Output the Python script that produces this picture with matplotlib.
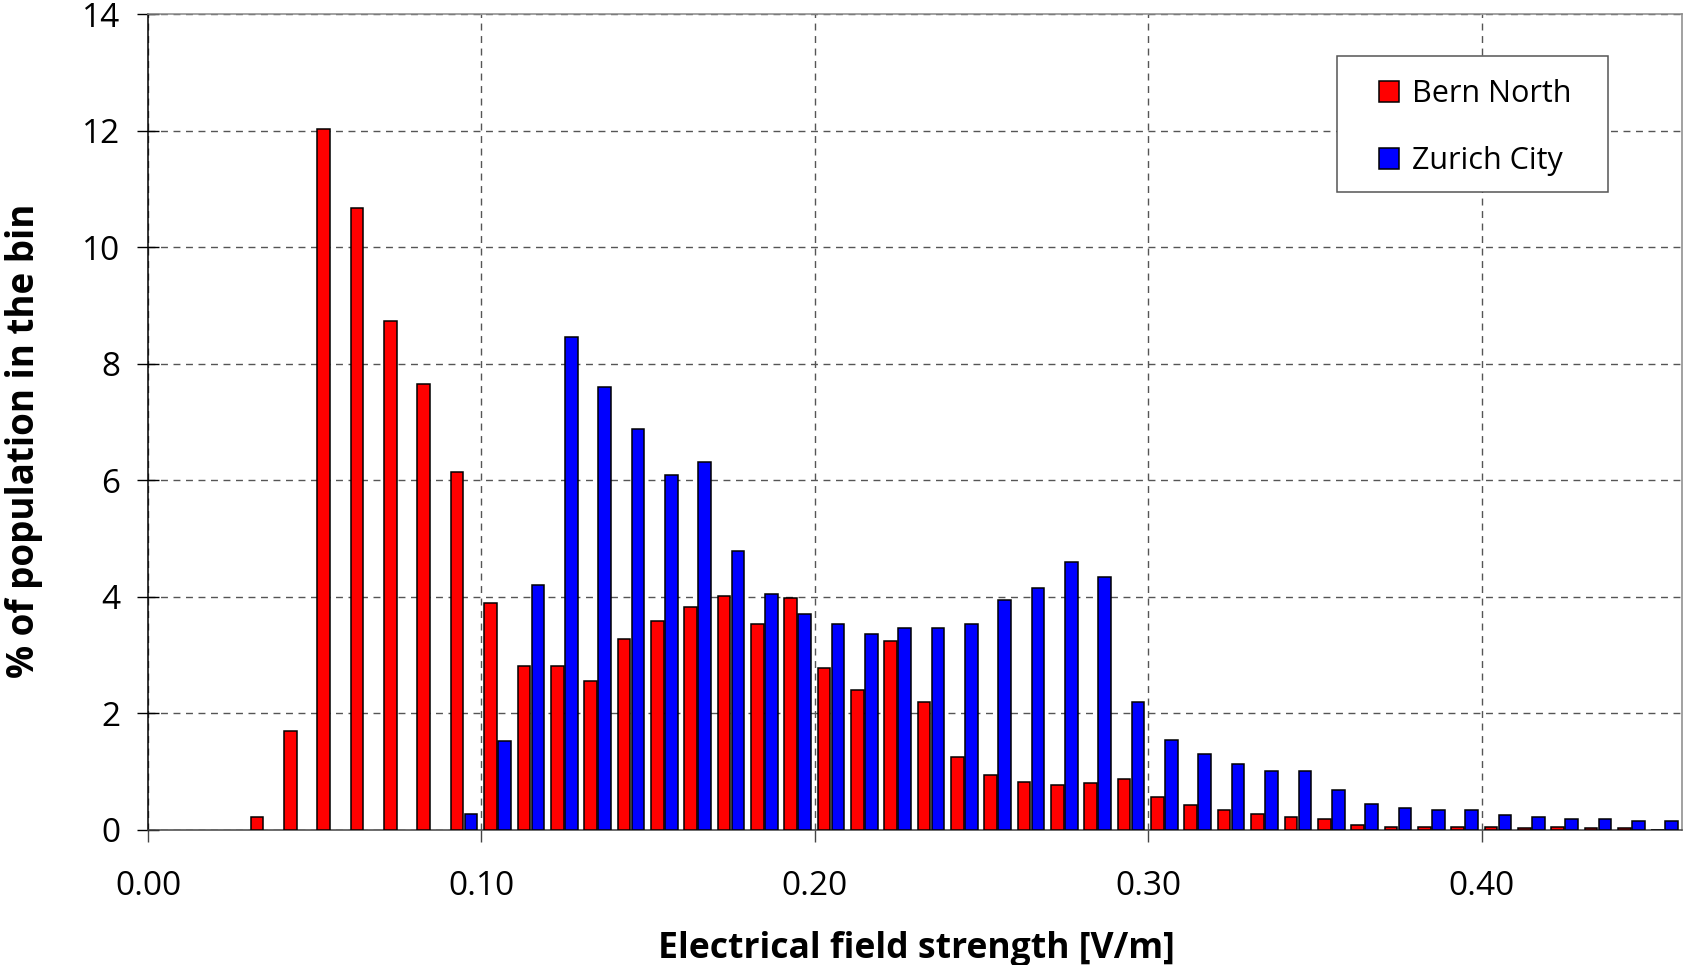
import numpy as np
import matplotlib
matplotlib.use('Agg')
import matplotlib.pyplot as plt
from matplotlib.patches import Rectangle

plt.rcParams['font.family'] = ['Open Sans', 'DejaVu Sans']

# bin start of each 0.01 V/m bin
bern_bins = np.round(np.arange(0.03, 0.455, 0.01), 2)
bern_pct = [0.22, 1.70, 12.03, 10.68, 8.74, 7.65, 6.14, 3.89, 2.81, 2.81,
            2.56, 3.28, 3.58, 3.83, 4.02, 3.53, 3.99, 2.78, 2.41, 3.24,
            2.19, 1.26, 0.95, 0.83, 0.77, 0.80, 0.87, 0.56, 0.43, 0.34,
            0.28, 0.22, 0.19, 0.09, 0.06, 0.06, 0.06, 0.06, 0.03, 0.06,
            0.03, 0.03, 0.0]

zurich_bins = np.round(np.arange(0.09, 0.455, 0.01), 2)
zurich_pct = [0.28, 1.52, 4.20, 8.47, 7.60, 6.89, 6.09, 6.31, 4.79, 4.05,
              3.71, 3.53, 3.37, 3.46, 3.46, 3.54, 3.95, 4.16, 4.60, 4.34,
              2.19, 1.54, 1.30, 1.14, 1.02, 1.02, 0.69, 0.44, 0.37, 0.34,
              0.34, 0.25, 0.22, 0.19, 0.19, 0.15, 0.15]

x_ticks = [0.0, 0.1, 0.2, 0.3, 0.4]
y_ticks = [0, 2, 4, 6, 8, 10, 12, 14]

fig = plt.figure(figsize=(16.84, 9.65), dpi=100)
ax = fig.add_axes([0.08789, 0.13990, 0.91093, 0.84528])

w = 0.0038
ax.bar(bern_bins + 0.0027, bern_pct, width=w, color='#ff0000',
       edgecolor='black', linewidth=1.1, zorder=3, label='Bern North')
ax.bar(zurich_bins + 0.0069, zurich_pct, width=w, color='#0000ff',
       edgecolor='black', linewidth=1.1, zorder=3, label='Zurich City')

ax.set_xlim(0, 0.46)
ax.set_ylim(0, 14)
ax.set_xticks(x_ticks)
ax.set_xticklabels([f'{v:.2f}' for v in x_ticks])
ax.set_yticks(y_ticks)

ax.grid(True, color='#555555', linestyle=(0, (5, 4)), linewidth=1.0, zorder=1)

ax.tick_params(axis='y', direction='inout', length=15.5, width=1.0,
               pad=12.0, labelsize=24, color='black')
ax.tick_params(axis='x', direction='out', length=8.6, width=1.0,
               pad=20, labelsize=24, color='#444444')

ax.spines['left'].set_color('black')
ax.spines['bottom'].set_color('#444444')
ax.spines['top'].set_color('#888888')
ax.spines['right'].set_color('#888888')
for s in ax.spines.values():
    s.set_linewidth(1.1)

# legend box
ax.add_patch(Rectangle((0.775, 0.782), 0.177, 0.167, transform=ax.transAxes,
                       facecolor='white', edgecolor='#555555', linewidth=1.1,
                       zorder=4))
leg = ax.legend(loc='center', bbox_to_anchor=(0.865, 0.861), frameon=False,
                fontsize=22, handlelength=0.68, handleheight=0.68,
                handletextpad=0.4, labelspacing=1.22, borderpad=0,
                borderaxespad=0)
leg.set_zorder(5)

fig.text(0.5442, 1 - 958 / 965, 'Electrical field strength [V/m]', fontsize=25.6,
         fontweight='bold', ha='center', va='baseline')
fig.text(24 / 1684, 1 - 441 / 965, '% of population in the bin', fontsize=26.5,
         fontweight='bold', ha='center', va='center', rotation=90)

fig.savefig('out.png', dpi=100)
